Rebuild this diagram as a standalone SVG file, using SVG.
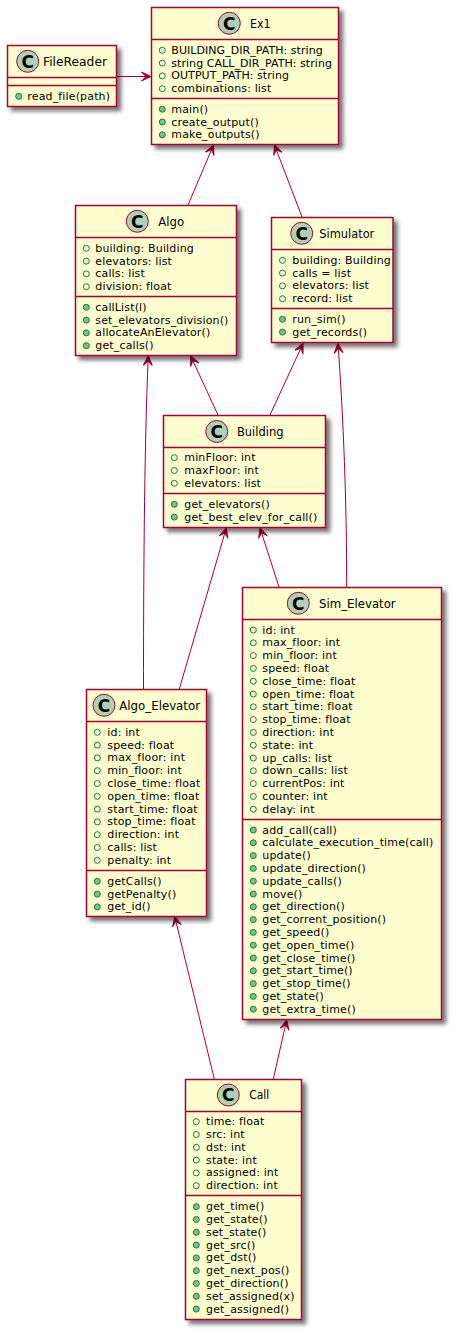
<svg xmlns="http://www.w3.org/2000/svg" width="454" height="1332" viewBox="0 0 454 1332">
<style>
text{font-family:"DejaVu Sans",sans-serif;fill:#000}
.t{font-size:13px}
.m{font-size:11px;letter-spacing:.15px}
.m .u{letter-spacing:.05px}
.b{fill:#FEFECE;stroke:#A80036;stroke-width:1.5}
.s{fill:none;stroke:#A80036;stroke-width:1.5}
.c{fill:#ADD1B2;stroke:#A80036;stroke-width:1}
.g{font-size:17px;font-weight:bold;text-anchor:middle}
.a{fill:none;stroke:#038048;stroke-width:1}
.o{fill:#84BE84;stroke:#038048;stroke-width:1}
.l{fill:none;stroke:#A80036;stroke-width:1;marker-end:url(#h)}
</style>
<defs>
<filter id="f" x="-10%" y="-10%" width="125%" height="125%"><feGaussianBlur in="SourceAlpha" stdDeviation="2"/><feOffset dx="4" dy="4"/><feComponentTransfer><feFuncA type="linear" slope="0.55"/></feComponentTransfer><feMerge><feMergeNode/><feMergeNode in="SourceGraphic"/></feMerge></filter>
<marker id="h" markerUnits="userSpaceOnUse" markerWidth="14" markerHeight="12" refX="11" refY="6" orient="auto" viewBox="0 0 14 12"><path d="M11,6 L1.500,1.500 L6,6 L1.500,10.500 Z" fill="#A80036" stroke="#A80036" stroke-width="1"/></marker>
</defs>
<g id="connectors">
<path class="l" d="M116.500,76.500 L151,76.500"/>
<path class="l" d="M188,205 L213.500,145"/>
<path class="l" d="M302,217 L274.500,145"/>
<path class="l" d="M218,415 L190.700,356"/>
<path class="l" d="M143.500,689 C143.500,600 144,450 148.300,356"/>
<path class="l" d="M270,415 L303,343.500"/>
<path class="l" d="M346.700,587 C346.700,500 343.500,420 338,343.500"/>
<path class="l" d="M179.300,689 L226.300,528"/>
<path class="l" d="M279,587 L260,528"/>
<path class="l" d="M214.300,1079 L174.700,916.500"/>
<path class="l" d="M273.300,1079 L286.700,1020"/>
</g>
<g id="Ex1">
<rect class="b" filter="url(#f)" x="151.500" y="7.500" width="187" height="137"/>
<path class="s" d="M151.500,39.500H338.500M151.500,98.500H338.500"/>
<circle class="c" cx="229.300" cy="23.300" r="11"/><text class="g" x="229.300" y="29.500">C</text>
<text class="t" x="250" y="27.700" textLength="20.700" lengthAdjust="spacingAndGlyphs">Ex1</text>
<g class="m">
<circle class="a" cx="162.300" cy="50.300" r="3"/><text class="u" x="171.300" y="53.800">BUILDING_DIR_PATH: string</text>
<circle class="a" cx="162.300" cy="63.100" r="3"/><text class="u" x="171.300" y="66.600">string CALL_DIR_PATH: string</text>
<circle class="a" cx="162.300" cy="75.900" r="3"/><text class="u" x="171.300" y="79.400">OUTPUT_PATH: string</text>
<circle class="a" cx="162.300" cy="88.700" r="3"/><text x="171.300" y="92.200">combinations: list</text>
<circle class="o" cx="162.300" cy="109.200" r="3"/><text x="171.300" y="112.700">main()</text>
<circle class="o" cx="162.300" cy="122" r="3"/><text x="171.300" y="125.500">create_output()</text>
<circle class="o" cx="162.300" cy="134.800" r="3"/><text x="171.300" y="138.300">make_outputs()</text>
</g>
</g>
<g id="FileReader">
<rect class="b" filter="url(#f)" x="7.500" y="45.500" width="109" height="61"/>
<path class="s" d="M7.500,77.500H116.500M7.500,85.500H116.500"/>
<circle class="c" cx="27.700" cy="61.300" r="11"/><text class="g" x="27.700" y="67.500">C</text>
<text class="t" x="43" y="66" textLength="64" lengthAdjust="spacingAndGlyphs">FileReader</text>
<g class="m"><circle class="o" cx="18.700" cy="96.300" r="3"/><text x="27.300" y="99.800">read_file(path)</text></g>
</g>
<g id="Algo">
<rect class="b" filter="url(#f)" x="75.500" y="205.500" width="161" height="150"/>
<path class="s" d="M75.500,237.500H236.500M75.500,296.500H236.500"/>
<circle class="c" cx="137.300" cy="221.300" r="11"/><text class="g" x="137.300" y="227.500">C</text>
<text class="t" x="158.300" y="225.700" textLength="26" lengthAdjust="spacingAndGlyphs">Algo</text>
<g class="m">
<circle class="a" cx="86.300" cy="248.300" r="3"/><text x="95.300" y="251.800">building: Building</text>
<circle class="a" cx="86.300" cy="261.100" r="3"/><text x="95.300" y="264.600">elevators: list</text>
<circle class="a" cx="86.300" cy="273.900" r="3"/><text x="95.300" y="277.400">calls: list</text>
<circle class="a" cx="86.300" cy="286.700" r="3"/><text x="95.300" y="290.200">division: float</text>
<circle class="o" cx="86.300" cy="307.300" r="3"/><text x="95.300" y="310.800">callList(l)</text>
<circle class="o" cx="86.300" cy="320.100" r="3"/><text x="95.300" y="323.600">set_elevators_division()</text>
<circle class="o" cx="86.300" cy="332.900" r="3"/><text x="95.300" y="336.400">allocateAnElevator()</text>
<circle class="o" cx="86.300" cy="345.700" r="3"/><text x="95.300" y="349.200">get_calls()</text>
</g>
</g>
<g id="Simulator">
<rect class="b" filter="url(#f)" x="271.500" y="217.500" width="121.500" height="125"/>
<path class="s" d="M271.500,249.500H393M271.500,308.500H393"/>
<circle class="c" cx="301.700" cy="233.300" r="11"/><text class="g" x="301.700" y="239.500">C</text>
<text class="t" x="319.300" y="237.700" textLength="55" lengthAdjust="spacingAndGlyphs">Simulator</text>
<g class="m">
<circle class="a" cx="282.500" cy="260.300" r="3"/><text x="292.300" y="263.800">building: Building</text>
<circle class="a" cx="282.500" cy="273.100" r="3"/><text x="292.300" y="276.600">calls = list</text>
<circle class="a" cx="282.500" cy="285.900" r="3"/><text x="292.300" y="289.400">elevators: list</text>
<circle class="a" cx="282.500" cy="298.700" r="3"/><text x="292.300" y="302.200">record: list</text>
<circle class="o" cx="282.500" cy="319.300" r="3"/><text x="292.300" y="322.800">run_sim()</text>
<circle class="o" cx="282.500" cy="332.100" r="3"/><text x="292.300" y="335.600">get_records()</text>
</g>
</g>
<g id="Building">
<rect class="b" filter="url(#f)" x="163.500" y="415.500" width="162" height="112"/>
<path class="s" d="M163.500,447.500H325.500M163.500,493.500H325.500"/>
<circle class="c" cx="216.700" cy="431.500" r="11"/><text class="g" x="216.700" y="437.700">C</text>
<text class="t" x="237" y="435.500" textLength="46.500" lengthAdjust="spacingAndGlyphs">Building</text>
<g class="m">
<circle class="a" cx="174.300" cy="457.700" r="3"/><text x="184.300" y="461.200">minFloor: int</text>
<circle class="a" cx="174.300" cy="470.500" r="3"/><text x="184.300" y="474">maxFloor: int</text>
<circle class="a" cx="174.300" cy="483.300" r="3"/><text x="184.300" y="486.800">elevators: list</text>
<circle class="o" cx="174.300" cy="504.300" r="3"/><text x="184.300" y="507.800">get_elevators()</text>
<circle class="o" cx="174.300" cy="517.100" r="3"/><text x="184.300" y="520.600">get_best_elev_for_call()</text>
</g>
</g>
<g id="Sim_Elevator">
<rect class="b" filter="url(#f)" x="242.500" y="587.500" width="199" height="432"/>
<path class="s" d="M242.500,619.500H441.500M242.500,819.500H441.500"/>
<circle class="c" cx="298.300" cy="603.300" r="11"/><text class="g" x="298.300" y="609.500">C</text>
<text class="t" x="319" y="607.500" textLength="76.700" lengthAdjust="spacingAndGlyphs">Sim_Elevator</text>
<g class="m">
<circle class="a" cx="253.300" cy="630" r="3"/><text x="262.300" y="633.500">id: int</text>
<circle class="a" cx="253.300" cy="642.800" r="3"/><text x="262.300" y="646.300">max_floor: int</text>
<circle class="a" cx="253.300" cy="655.600" r="3"/><text x="262.300" y="659.100">min_floor: int</text>
<circle class="a" cx="253.300" cy="668.400" r="3"/><text x="262.300" y="671.900">speed: float</text>
<circle class="a" cx="253.300" cy="681.200" r="3"/><text x="262.300" y="684.700">close_time: float</text>
<circle class="a" cx="253.300" cy="694" r="3"/><text x="262.300" y="697.500">open_time: float</text>
<circle class="a" cx="253.300" cy="706.800" r="3"/><text x="262.300" y="710.300">start_time: float</text>
<circle class="a" cx="253.300" cy="719.600" r="3"/><text x="262.300" y="723.100">stop_time: float</text>
<circle class="a" cx="253.300" cy="732.400" r="3"/><text x="262.300" y="735.900">direction: int</text>
<circle class="a" cx="253.300" cy="745.200" r="3"/><text x="262.300" y="748.700">state: int</text>
<circle class="a" cx="253.300" cy="758" r="3"/><text x="262.300" y="761.500">up_calls: list</text>
<circle class="a" cx="253.300" cy="770.800" r="3"/><text x="262.300" y="774.300">down_calls: list</text>
<circle class="a" cx="253.300" cy="783.600" r="3"/><text x="262.300" y="787.100">currentPos: int</text>
<circle class="a" cx="253.300" cy="796.400" r="3"/><text x="262.300" y="799.900">counter: int</text>
<circle class="a" cx="253.300" cy="809.200" r="3"/><text x="262.300" y="812.700">delay: int</text>
<circle class="o" cx="253.300" cy="830" r="3"/><text x="262.300" y="833.500">add_call(call)</text>
<circle class="o" cx="253.300" cy="842.800" r="3"/><text x="262.300" y="846.300">calculate_execution_time(call)</text>
<circle class="o" cx="253.300" cy="855.600" r="3"/><text x="262.300" y="859.100">update()</text>
<circle class="o" cx="253.300" cy="868.400" r="3"/><text x="262.300" y="871.900">update_direction()</text>
<circle class="o" cx="253.300" cy="881.200" r="3"/><text x="262.300" y="884.700">update_calls()</text>
<circle class="o" cx="253.300" cy="894" r="3"/><text x="262.300" y="897.500">move()</text>
<circle class="o" cx="253.300" cy="906.800" r="3"/><text x="262.300" y="910.300">get_direction()</text>
<circle class="o" cx="253.300" cy="919.600" r="3"/><text x="262.300" y="923.100">get_corrent_position()</text>
<circle class="o" cx="253.300" cy="932.400" r="3"/><text x="262.300" y="935.900">get_speed()</text>
<circle class="o" cx="253.300" cy="945.200" r="3"/><text x="262.300" y="948.700">get_open_time()</text>
<circle class="o" cx="253.300" cy="958" r="3"/><text x="262.300" y="961.500">get_close_time()</text>
<circle class="o" cx="253.300" cy="970.800" r="3"/><text x="262.300" y="974.300">get_start_time()</text>
<circle class="o" cx="253.300" cy="983.600" r="3"/><text x="262.300" y="987.100">get_stop_time()</text>
<circle class="o" cx="253.300" cy="996.400" r="3"/><text x="262.300" y="999.900">get_state()</text>
<circle class="o" cx="253.300" cy="1009.200" r="3"/><text x="262.300" y="1012.700">get_extra_time()</text>
</g>
</g>
<g id="Algo_Elevator">
<rect class="b" filter="url(#f)" x="86.500" y="689.500" width="120" height="227"/>
<path class="s" d="M86.500,721.500H206.500M86.500,870.500H206.500"/>
<circle class="c" cx="104" cy="705.300" r="11"/><text class="g" x="104" y="711.500">C</text>
<text class="t" x="119.300" y="710" textLength="80.700" lengthAdjust="spacingAndGlyphs">Algo_Elevator</text>
<g class="m">
<circle class="a" cx="97.300" cy="732.300" r="3"/><text x="107.300" y="735.800">id: int</text>
<circle class="a" cx="97.300" cy="745.100" r="3"/><text x="107.300" y="748.600">speed: float</text>
<circle class="a" cx="97.300" cy="757.900" r="3"/><text x="107.300" y="761.400">max_floor: int</text>
<circle class="a" cx="97.300" cy="770.700" r="3"/><text x="107.300" y="774.200">min_floor: int</text>
<circle class="a" cx="97.300" cy="783.500" r="3"/><text x="107.300" y="787">close_time: float</text>
<circle class="a" cx="97.300" cy="796.300" r="3"/><text x="107.300" y="799.800">open_time: float</text>
<circle class="a" cx="97.300" cy="809.100" r="3"/><text x="107.300" y="812.600">start_time: float</text>
<circle class="a" cx="97.300" cy="821.900" r="3"/><text x="107.300" y="825.400">stop_time: float</text>
<circle class="a" cx="97.300" cy="834.700" r="3"/><text x="107.300" y="838.200">direction: int</text>
<circle class="a" cx="97.300" cy="847.500" r="3"/><text x="107.300" y="851">calls: list</text>
<circle class="a" cx="97.300" cy="860.300" r="3"/><text x="107.300" y="863.800">penalty: int</text>
<circle class="o" cx="97.300" cy="881.300" r="3"/><text x="107.300" y="884.800">getCalls()</text>
<circle class="o" cx="97.300" cy="894.100" r="3"/><text x="107.300" y="897.600">getPenalty()</text>
<circle class="o" cx="97.300" cy="906.900" r="3"/><text x="107.300" y="910.400">get_id()</text>
</g>
</g>
<g id="Call">
<rect class="b" filter="url(#f)" x="185.500" y="1079.500" width="116" height="240"/>
<path class="s" d="M185.500,1111.500H301.500M185.500,1195.500H301.500"/>
<circle class="c" cx="228.300" cy="1095" r="11"/><text class="g" x="228.300" y="1101.200">C</text>
<text class="t" x="249.300" y="1099" textLength="20" lengthAdjust="spacingAndGlyphs">Call</text>
<g class="m">
<circle class="a" cx="196.300" cy="1121.700" r="3"/><text x="206" y="1125.200">time: float</text>
<circle class="a" cx="196.300" cy="1134.500" r="3"/><text x="206" y="1138">src: int</text>
<circle class="a" cx="196.300" cy="1147.300" r="3"/><text x="206" y="1150.800">dst: int</text>
<circle class="a" cx="196.300" cy="1160.100" r="3"/><text x="206" y="1163.600">state: int</text>
<circle class="a" cx="196.300" cy="1172.900" r="3"/><text x="206" y="1176.400">assigned: int</text>
<circle class="a" cx="196.300" cy="1185.700" r="3"/><text x="206" y="1189.200">direction: int</text>
<circle class="o" cx="196.300" cy="1206.700" r="3"/><text x="206" y="1210.200">get_time()</text>
<circle class="o" cx="196.300" cy="1219.500" r="3"/><text x="206" y="1223">get_state()</text>
<circle class="o" cx="196.300" cy="1232.300" r="3"/><text x="206" y="1235.800">set_state()</text>
<circle class="o" cx="196.300" cy="1245.100" r="3"/><text x="206" y="1248.600">get_src()</text>
<circle class="o" cx="196.300" cy="1257.900" r="3"/><text x="206" y="1261.400">get_dst()</text>
<circle class="o" cx="196.300" cy="1270.700" r="3"/><text x="206" y="1274.200">get_next_pos()</text>
<circle class="o" cx="196.300" cy="1283.500" r="3"/><text x="206" y="1287">get_direction()</text>
<circle class="o" cx="196.300" cy="1296.300" r="3"/><text x="206" y="1299.800">set_assigned(x)</text>
<circle class="o" cx="196.300" cy="1309.100" r="3"/><text x="206" y="1312.600">get_assigned()</text>
</g>
</g>
</svg>
